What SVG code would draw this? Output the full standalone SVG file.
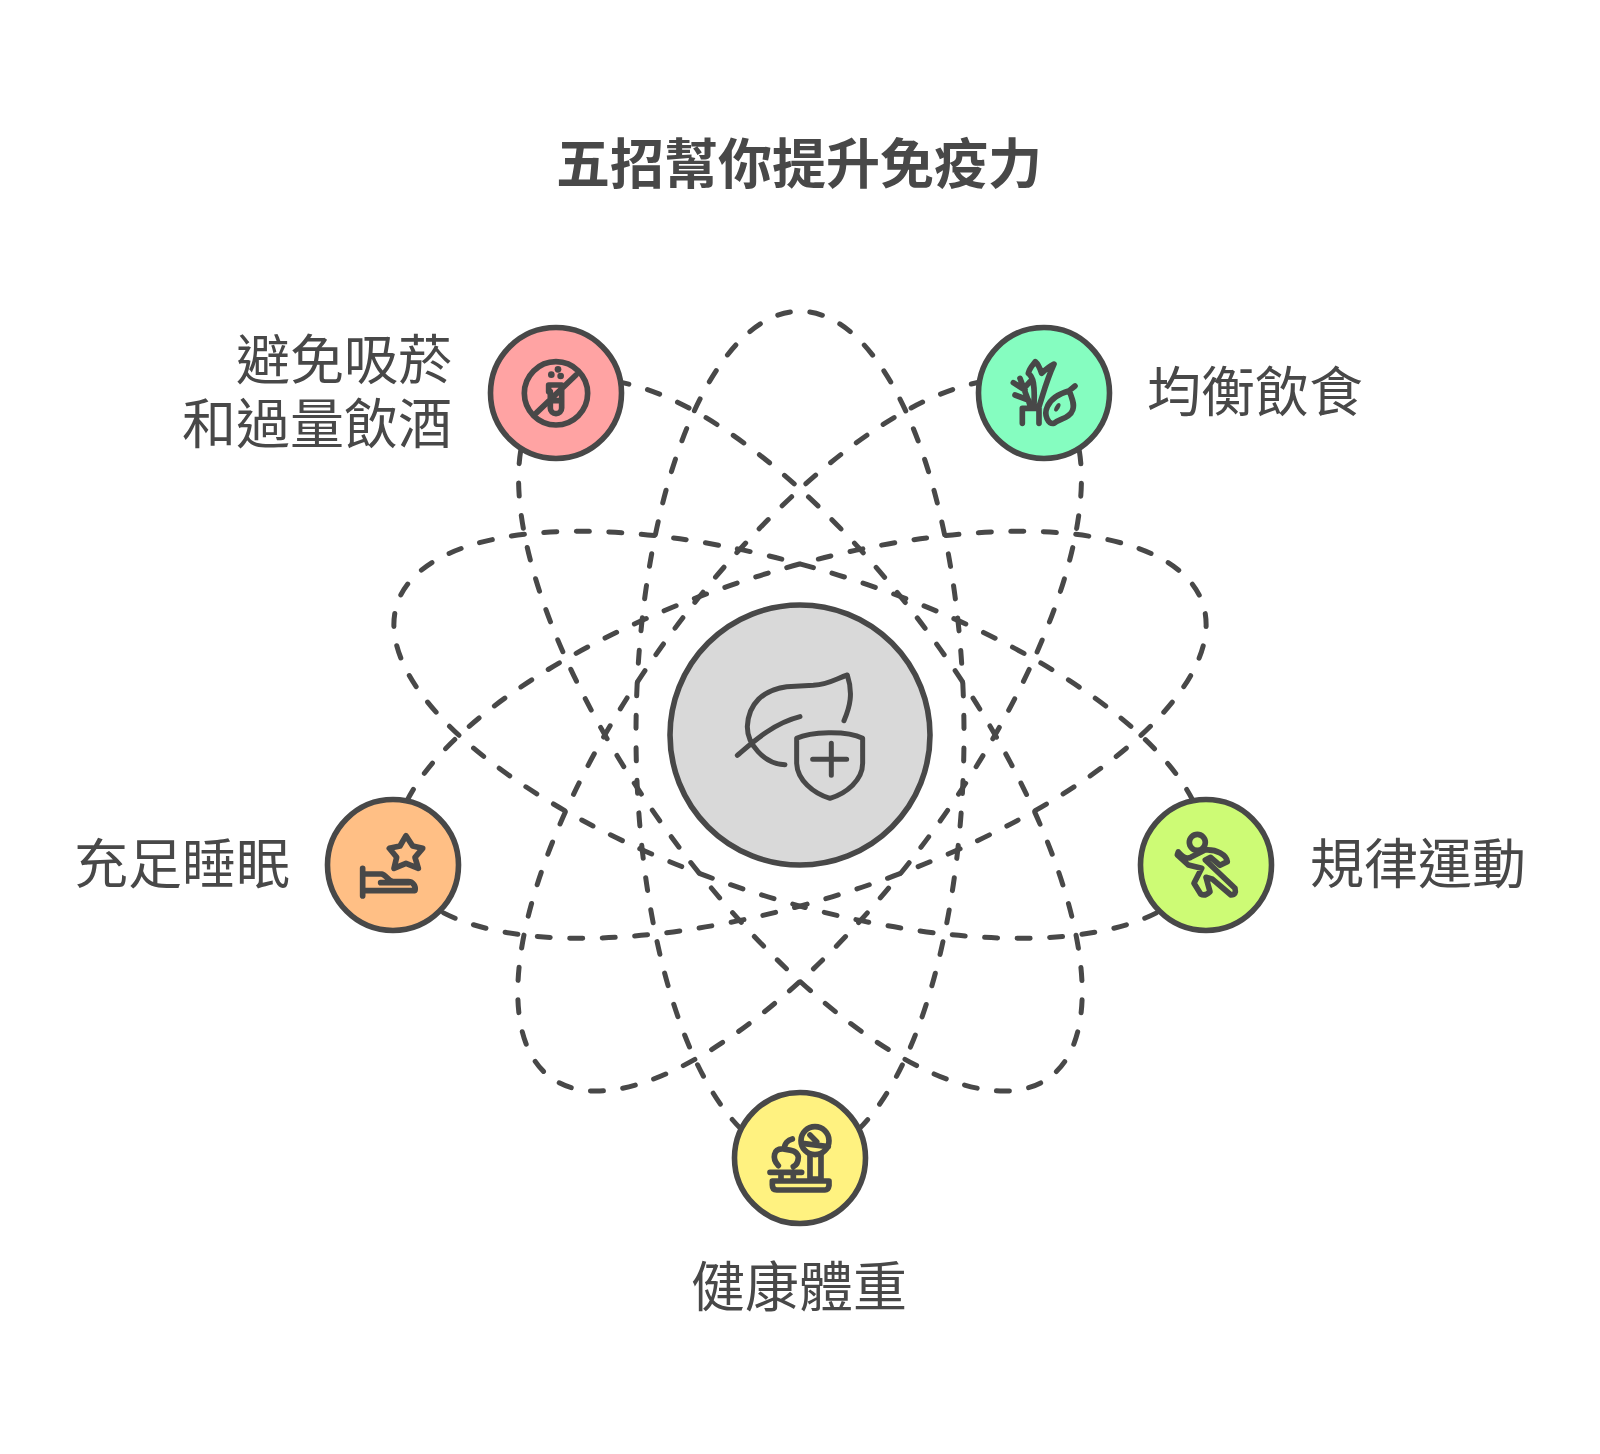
<svg xmlns="http://www.w3.org/2000/svg" width="1600" height="1454" viewBox="0 0 1600 1454">
<style>
.o{fill:none;stroke:#484848;stroke-width:5;stroke-linecap:round;stroke-dasharray:13 19.5}
.n{stroke:#484848;stroke-width:5.6}
.i{fill:none;stroke:#484848;stroke-width:17;stroke-linecap:round;stroke-linejoin:round}
.d{fill:#484848;stroke:none}
text{font-family:"Noto Sans CJK TC","Noto Sans CJK SC",sans-serif;font-size:54px;fill:#484848}
.t{font-weight:700;text-anchor:middle}
.e{text-anchor:end}.m{text-anchor:middle}
</style>
<rect width="1600" height="1454" fill="#ffffff"/>
<text id="title" class="t" x="799" y="184">五招幫你提升免疫力</text>
<g id="connectors">
<path class="o" d="M741 1129A164 423 0 1 1 859 1129"/>
<path class="o" d="M741 1129A164 423 0 1 1 859 1129" transform="rotate(72 800 735)"/>
<path class="o" d="M741 1129A164 423 0 1 1 859 1129" transform="rotate(144 800 735)"/>
<path class="o" d="M741 1129A164 423 0 1 1 859 1129" transform="rotate(216 800 735)"/>
<path class="o" d="M741 1129A164 423 0 1 1 859 1129" transform="rotate(288 800 735)"/>
</g>
<g id="center">
<circle class="n" cx="800" cy="735" r="130" fill="#d9d9d9"/>
<g transform="translate(640 580) scale(.3333)">
<path class="i" style="stroke-width:15" d="M612 422C630 380 640 340 622 285C590 295 570 312 520 316L440 320C370 330 325 370 322 440C322 490 370 552 435 554M292 526C340 485 400 430 480 410M470 475C510 455 620 450 668 475V550C668 600 620 640 570 655C520 640 472 600 470 550ZM574 490V586M518 538H620"/>
</g>
</g>
<g id="node-smoke">
<circle class="n" cx="556" cy="393" r="65.5" fill="#ffa3a3"/>
<g transform="translate(470 310) scale(.3333)">
<circle class="i" cx="258" cy="250" r="95"/>
<path class="i" d="M200 308L318 195M275 225H236V245H241V294A17 17 0 0 0 275 294V225M241 272H275"/>
<circle class="d" cx="244" cy="194" r="10"/><circle class="d" cx="264" cy="178" r="10"/><circle class="d" cx="272" cy="198" r="10"/>
</g>
<text class="e"><tspan x="452" y="380">避免吸菸</tspan><tspan x="452" y="444">和過量飲酒</tspan></text>
</g>
<g id="node-diet">
<circle class="n" cx="1044" cy="393" r="65.5" fill="#85fdc0"/>
<g transform="translate(960 310) scale(.3333)">
<path class="i" d="M187 340V295H237V340M212 290L180 205M160 218L195 240M210 215L192 235M165 255L205 270M237 290C250 250 260 210 282 162C265 170 255 180 245 190C240 175 232 160 226 155C218 165 208 175 205 190C220 200 225 225 222 285M345 228L328 242C335 265 345 280 338 300C330 325 300 325 282 340C265 345 250 315 262 290C272 265 300 250 328 242"/>
<ellipse class="d" cx="292" cy="292" rx="7" ry="14" transform="rotate(30 292 292)"/>
</g>
<text x="1147" y="412">均衡飲食</text>
</g>
<g id="node-exercise">
<circle class="n" cx="1206" cy="865" r="65.5" fill="#cdfb75"/>
<g transform="translate(1120 780) scale(.3333)">
<circle class="i" cx="232" cy="187" r="24"/>
<path class="i" d="M175 216Q195 240 212 232L255 210C290 207 320 225 322 245L300 256L272 232L256 240L345 325Q350 345 333 345L278 298L258 292L270 335Q255 350 242 342L222 310L245 265L205 255L172 225Z"/>
</g>
<text x="1310" y="884">規律運動</text>
</g>
<g id="node-weight">
<circle class="n" cx="800" cy="1158" r="65.5" fill="#fff280"/>
<g transform="translate(715 1075) scale(.3333)">
<circle class="i" cx="300" cy="197" r="42"/>
<path class="i" d="M262 205L340 215M285 180L305 200M285 238V312H318V238M172 318H342V332Q340 345 330 345H185Q172 345 172 330ZM165 292H260M198 295V318M235 295V318M190 272C170 250 175 220 205 222C225 225 245 225 250 245C250 260 245 270 235 275M208 222C208 205 220 195 232 192"/>
</g>
<text class="m" x="799" y="1307">健康體重</text>
</g>
<g id="node-sleep">
<circle class="n" cx="393" cy="865" r="65.5" fill="#ffbf85"/>
<g transform="translate(310 780) scale(.3333)">
<path class="i" d="M288 167L308 198L338 205L315 232L325 265L288 250L252 265L260 232L238 205L270 198ZM158 265V348M158 282H215C230 285 235 305 250 305H295C310 305 318 320 315 332H160M212 308H295"/>
</g>
<text x="74" y="884">充足睡眠</text>
</g>
</svg>
